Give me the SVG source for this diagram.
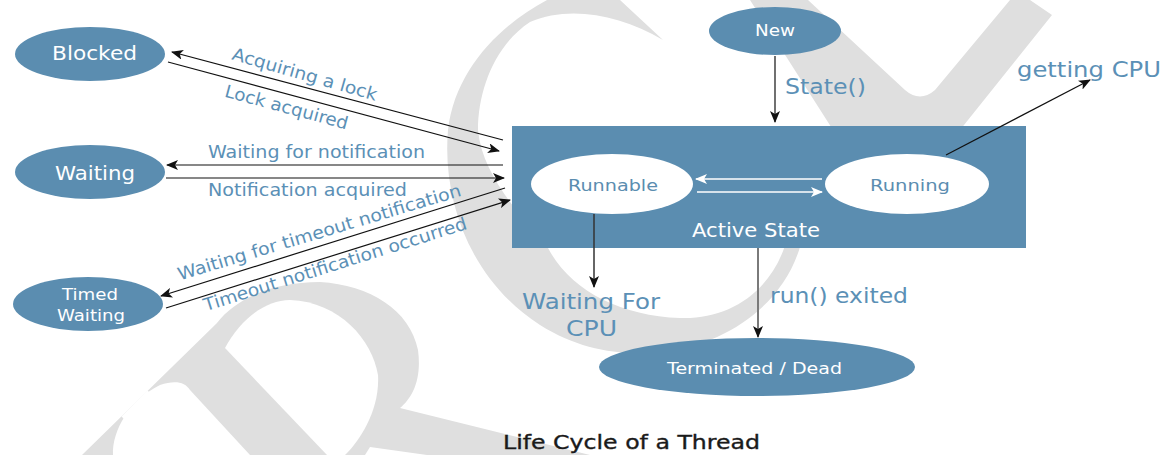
<svg xmlns="http://www.w3.org/2000/svg" width="1169" height="455" viewBox="0 0 1169 455">
<style>
.wm{fill:#dfdfdf;stroke:none}
.hole{fill:#ffffff;stroke:none}
.node{fill:#5b8db0;stroke:none}
.inner{fill:#ffffff;stroke:none}
text{font-family:"DejaVu Sans","Liberation Sans",sans-serif}
.nt{fill:#ffffff;text-anchor:middle}
.it{fill:#5b8db0;text-anchor:middle}
.lbl{fill:#5b90b6}
.ln{stroke:#111;stroke-width:1.2;fill:none}
.wl{stroke:#ffffff;stroke-width:1.4;fill:none}
.title{fill:#1a1a1a;stroke:#1a1a1a;stroke-width:0.35;text-anchor:middle}
</style>
<defs>
<marker id="ah" viewBox="0 0 12 10" refX="11" refY="5" markerWidth="12" markerHeight="10" orient="auto" markerUnits="userSpaceOnUse"><path d="M0,0 L12,5 L0,10 L3,5 Z" fill="#111"/></marker>
<marker id="ahw" viewBox="0 0 12 10" refX="11" refY="5" markerWidth="12" markerHeight="10" orient="auto" markerUnits="userSpaceOnUse"><path d="M0,0 L12,5 L0,10 L3,5 Z" fill="#ffffff"/></marker>
</defs>
<rect width="1169" height="455" fill="#ffffff"/>
<g id="watermark">
<path class="wm" d="M547 0 C500 25 455 70 448 130 C442 200 470 280 540 325 C580 350 620 356 660 352 C730 345 790 300 803 235 L803 140 L775 140 L788 235 C775 290 730 320 680 318 C620 316 570 290 548 248 C520 215 482 175 478 130 C478 90 495 45 530 22 C570 5 620 15 663 40 L620 0 Z"/>
<path class="wm" d="M750 0 L808 0 L905 90 Q920 103 935 90 L1010 0 L1030 0 L1052 15 L960 130 L833 130 Z"/>
<path class="wm" d="M82 455 L217 323 C235 300 270 282 320 282 C370 285 410 310 418 350 C422 380 412 398 400 408 L590 455 Z"/>
<path class="hole" d="M225 348 C240 320 265 300 290 300 C340 302 372 340 378 375 C380 410 360 440 345 455 L327 455 Z"/>
<path class="hole" d="M113 455 C112 430 130 400 160 385 C175 380 185 382 190 390 L250 455 Z"/>
<path class="hole" d="M370 447 L427 455 L365 455 Z"/>
<line x1="124" y1="419" x2="150" y2="393" stroke="#ffffff" stroke-width="7"/>
</g>
<g id="labels">
<text class="lbl" x="303" y="80" font-size="17.5" text-anchor="middle" textLength="150" lengthAdjust="spacingAndGlyphs" transform="rotate(16 303 80)">Acquiring a lock</text>
<text class="lbl" x="285" y="113" font-size="17.5" text-anchor="middle" textLength="127" lengthAdjust="spacingAndGlyphs" transform="rotate(15 285 113)">Lock acquired</text>
<text class="lbl" x="208" y="158" font-size="17.5" textLength="217" lengthAdjust="spacingAndGlyphs">Waiting for notification</text>
<text class="lbl" x="208" y="196" font-size="17.5" textLength="199" lengthAdjust="spacingAndGlyphs">Notification acquired</text>
<text class="lbl" x="321" y="238" font-size="17.5" text-anchor="middle" textLength="295" lengthAdjust="spacingAndGlyphs" transform="rotate(-16.7 321 238)">Waiting for timeout notification</text>
<text class="lbl" x="337" y="270" font-size="17.5" text-anchor="middle" textLength="275" lengthAdjust="spacingAndGlyphs" transform="rotate(-17.5 337 270)">Timeout notification occurred</text>
<text class="lbl" x="785" y="94" font-size="21" textLength="81" lengthAdjust="spacingAndGlyphs">State()</text>
<text class="lbl" x="1017" y="77" font-size="21" textLength="144" lengthAdjust="spacingAndGlyphs">getting CPU</text>
<text class="lbl" x="591" y="309" font-size="21" text-anchor="middle" textLength="138" lengthAdjust="spacingAndGlyphs">Waiting For</text>
<text class="lbl" x="591.5" y="336" font-size="21" text-anchor="middle" textLength="51" lengthAdjust="spacingAndGlyphs">CPU</text>
<text class="lbl" x="770" y="303" font-size="21" textLength="138" lengthAdjust="spacingAndGlyphs">run() exited</text>
</g>
<g id="node-blocked">
<ellipse class="node" cx="90" cy="54" rx="75" ry="27"/>
<text class="nt" x="94.5" y="60" font-size="19" textLength="85" lengthAdjust="spacingAndGlyphs">Blocked</text>
</g>
<g id="node-waiting">
<ellipse class="node" cx="90" cy="172" rx="75" ry="27"/>
<text class="nt" x="95" y="180" font-size="19" textLength="80" lengthAdjust="spacingAndGlyphs">Waiting</text>
</g>
<g id="node-timed-waiting">
<ellipse class="node" cx="88" cy="304" rx="75" ry="27"/>
<text class="nt" x="90" y="300" font-size="16.5" textLength="56" lengthAdjust="spacingAndGlyphs">Timed</text>
<text class="nt" x="91" y="321" font-size="16.5" textLength="68" lengthAdjust="spacingAndGlyphs">Waiting</text>
</g>
<g id="node-new">
<ellipse class="node" cx="775" cy="31" rx="66" ry="24"/>
<text class="nt" x="775" y="36" font-size="15" textLength="40" lengthAdjust="spacingAndGlyphs">New</text>
</g>
<g id="node-active-state">
<rect class="node" x="512" y="126" width="514" height="122"/>
<text class="nt" x="756" y="237" font-size="19" textLength="128" lengthAdjust="spacingAndGlyphs">Active State</text>
<line class="wl" x1="822" y1="179" x2="696" y2="179" marker-end="url(#ahw)"/>
<line class="wl" x1="697" y1="192" x2="822" y2="192" marker-end="url(#ahw)"/>
</g>
<g id="node-runnable">
<ellipse class="inner" cx="612" cy="184" rx="81" ry="30"/>
<text class="it" x="613" y="191" font-size="16.5" textLength="90" lengthAdjust="spacingAndGlyphs">Runnable</text>
</g>
<g id="node-running">
<ellipse class="inner" cx="907" cy="184" rx="82" ry="30"/>
<text class="it" x="910" y="191" font-size="16.5" textLength="80" lengthAdjust="spacingAndGlyphs">Running</text>
</g>
<g id="node-terminated">
<ellipse class="node" cx="757" cy="367" rx="158" ry="29"/>
<text class="nt" x="754.5" y="374" font-size="16.5" textLength="175" lengthAdjust="spacingAndGlyphs">Terminated / Dead</text>
</g>
<g id="connectors">
<line class="ln" x1="503" y1="140" x2="172" y2="52" marker-end="url(#ah)"/>
<line class="ln" x1="168" y1="62" x2="499" y2="151" marker-end="url(#ah)"/>
<line class="ln" x1="503" y1="165" x2="167" y2="165" marker-end="url(#ah)"/>
<line class="ln" x1="166" y1="178" x2="504" y2="178" marker-end="url(#ah)"/>
<line class="ln" x1="505" y1="188" x2="161" y2="296" marker-end="url(#ah)"/>
<line class="ln" x1="166" y1="308" x2="510" y2="200" marker-end="url(#ah)"/>
<line class="ln" x1="775" y1="56" x2="775" y2="122" marker-end="url(#ah)"/>
<line class="ln" x1="946" y1="155" x2="1090" y2="80" marker-end="url(#ah)"/>
<line class="ln" x1="594" y1="214" x2="594" y2="287" style="stroke:#333;stroke-width:1.5" marker-end="url(#ah)"/>
<line class="ln" x1="758" y1="248" x2="758" y2="337" style="stroke:#7a7a7a;stroke-width:2" marker-end="url(#ah)"/>
</g>
<text class="title" x="631.5" y="449" font-size="19" textLength="257" lengthAdjust="spacingAndGlyphs">Life Cycle of a Thread</text>
</svg>
